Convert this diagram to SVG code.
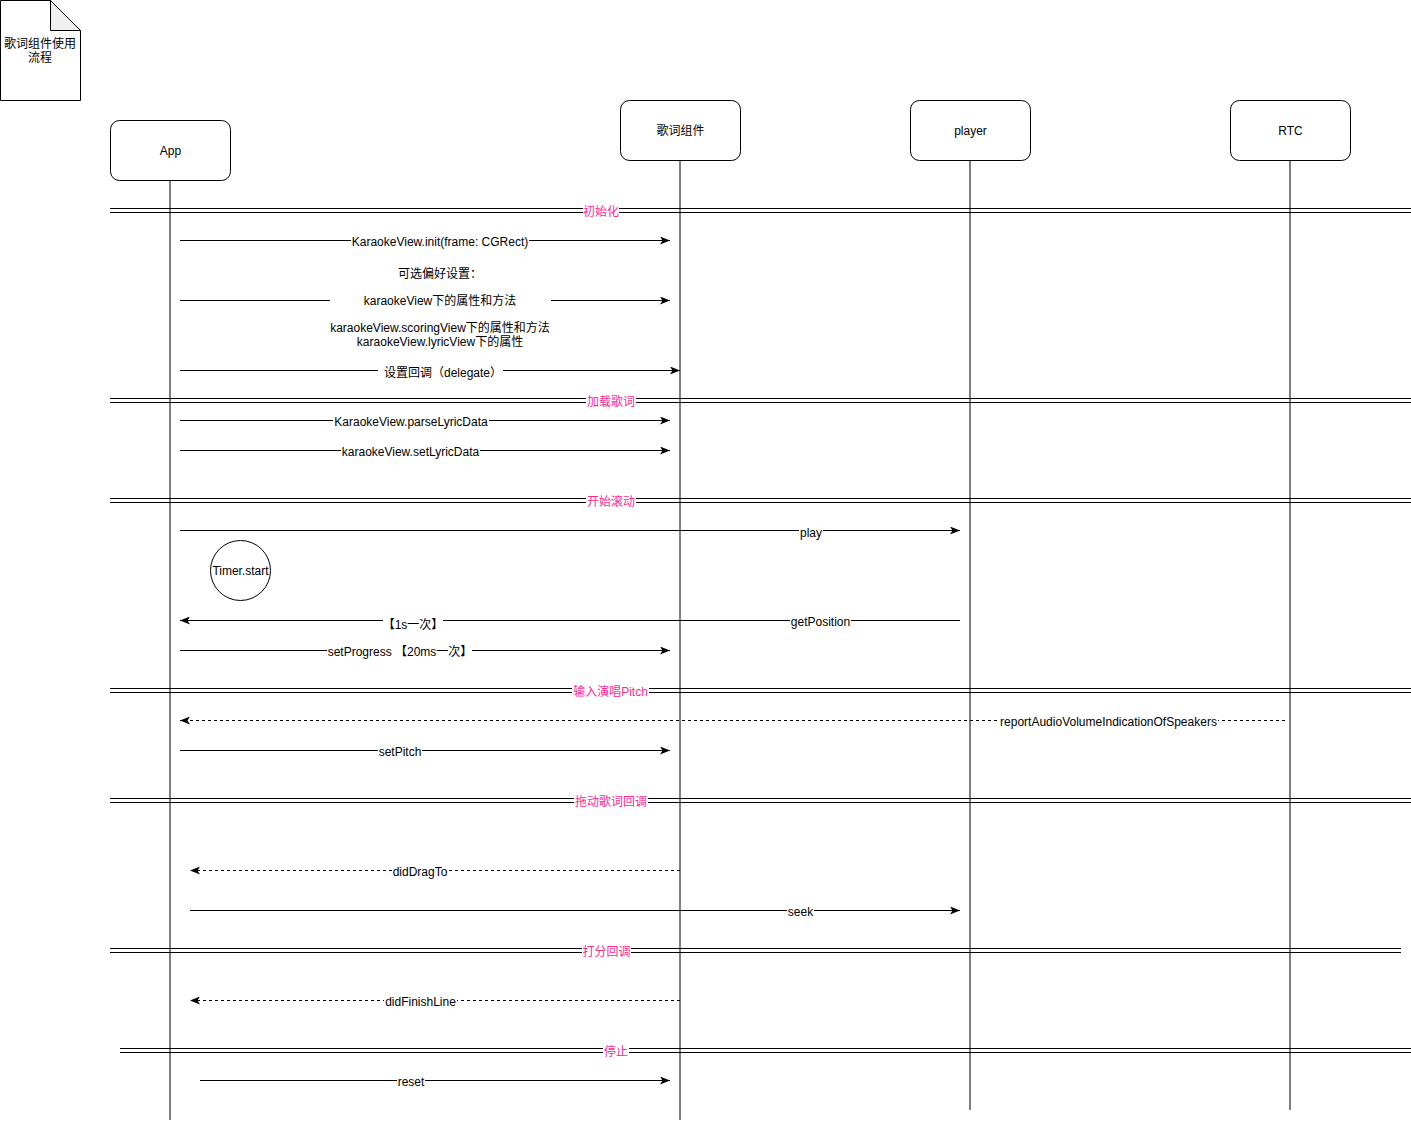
<svg xmlns="http://www.w3.org/2000/svg" width="1411" height="1122" viewBox="0 0 1411 1122">
<style>
text{font-family:"Liberation Sans","Noto Sans CJK SC",sans-serif;font-size:12px;fill:#000;text-anchor:middle}
.sec{fill:#FF2A90}
.box{fill:#fff;stroke:#000;stroke-width:1}
.life{stroke:#000;stroke-width:1;fill:none}
.msg{stroke:#000;stroke-width:1;fill:none}
.dash{stroke-dasharray:3 3}
.arr{marker-end:url(#classic)}
.div{stroke:#000;stroke-width:1;fill:none}
.bg{fill:#fff}
</style>
<defs>
<marker id="classic" markerUnits="userSpaceOnUse" markerWidth="10" markerHeight="8" viewBox="0 0 10 8" refX="10" refY="4" orient="auto">
<path d="M0,0 L10,4 L0,8 L2.5,4 Z" fill="#000"/>
</marker>
</defs>
<rect width="1411" height="1122" fill="#fff"/>

<g id="title-note">
<path d="M0.5,0.5 H50.5 L80.5,30.5 V100.5 H0.5 Z" class="box"/>
<path d="M50.5,0.5 V30.5 H80.5 Z" fill="#f0f0f0" stroke="#000"/>
<text x="40" y="48">歌词组件使用</text>
<text x="40" y="62">流程</text>
</g>

<g id="lifelines">
<line class="life" x1="170" y1="180" x2="170" y2="1120"/>
<line class="life" x1="680" y1="160" x2="680" y2="1120"/>
<line class="life" x1="970" y1="160" x2="970" y2="1110"/>
<line class="life" x1="1290" y1="160" x2="1290" y2="1110"/>
</g>

<g id="node-app">
<rect class="box" x="110.5" y="120.5" width="120" height="60" rx="9"/>
<text x="170.5" y="155">App</text>
</g>
<g id="node-lyric">
<rect class="box" x="620.5" y="100.5" width="120" height="60" rx="9"/>
<text x="680.5" y="135">歌词组件</text>
</g>
<g id="node-player">
<rect class="box" x="910.5" y="100.5" width="120" height="60" rx="9"/>
<text x="970.5" y="135">player</text>
</g>
<g id="node-rtc">
<rect class="box" x="1230.5" y="100.5" width="120" height="60" rx="9"/>
<text x="1290.5" y="135">RTC</text>
</g>
<g id="node-timer">
<circle class="box" cx="240.5" cy="570.5" r="30"/>
<text x="240.5" y="575">Timer.start</text>
</g>

<g id="dividers">
<path class="div" d="M110,208.5 H1411 M110,212.5 H1411"/>
<rect class="bg" x="583" y="204" width="36" height="15"/>
<text class="sec" x="601" y="216">初始化</text>

<path class="div" d="M110,398.5 H1411 M110,402.5 H1411"/>
<rect class="bg" x="586" y="394" width="50" height="15"/>
<text class="sec" x="611" y="406">加载歌词</text>

<path class="div" d="M110,498.5 H1411 M110,502.5 H1411"/>
<rect class="bg" x="586" y="494" width="50" height="15"/>
<text class="sec" x="611" y="506">开始滚动</text>

<path class="div" d="M110,688.5 H1411 M110,692.5 H1411"/>
<rect class="bg" x="572" y="684" width="77" height="15"/>
<text class="sec" x="610.5" y="696">输入演唱Pitch</text>

<path class="div" d="M110,798.5 H1411 M110,802.5 H1411"/>
<rect class="bg" x="574" y="794" width="74" height="15"/>
<text class="sec" x="611" y="806">拖动歌词回调</text>

<path class="div" d="M110,948.5 H1401 M110,952.5 H1401"/>
<rect class="bg" x="582" y="944" width="49" height="15"/>
<text class="sec" x="606.5" y="956">打分回调</text>

<path class="div" d="M120,1048.5 H1411 M120,1052.5 H1411"/>
<rect class="bg" x="603" y="1044" width="26" height="15"/>
<text class="sec" x="616" y="1056">停止</text>
</g>

<g id="connectors">
<line class="msg arr" x1="180" y1="240.5" x2="670" y2="240.5"/>
<rect class="bg" x="351" y="234" width="178" height="14"/>
<text x="440" y="246">KaraokeView.init(frame: CGRect)</text>

<line class="msg arr" x1="180" y1="300.5" x2="670" y2="300.5"/>
<rect class="bg" x="330" y="264" width="221" height="84"/>
<text x="440" y="278">可选偏好设置：</text>
<text x="440" y="305">karaokeView下的属性和方法</text>
<text x="440" y="332">karaokeView.scoringView下的属性和方法</text>
<text x="440" y="346">karaokeView.lyricView下的属性</text>

<line class="msg arr" x1="180" y1="370.5" x2="680" y2="370.5"/>
<rect class="bg" x="378" y="364" width="125" height="14"/>
<text x="443" y="377">设置回调（delegate）</text>

<line class="msg arr" x1="180" y1="420.5" x2="670" y2="420.5"/>
<rect class="bg" x="333" y="414" width="156" height="14"/>
<text x="411" y="426">KaraokeView.parseLyricData</text>

<line class="msg arr" x1="180" y1="450.5" x2="670" y2="450.5"/>
<rect class="bg" x="341" y="444" width="139" height="14"/>
<text x="410.5" y="456">karaokeView.setLyricData</text>

<line class="msg arr" x1="180" y1="530.5" x2="960" y2="530.5"/>
<rect class="bg" x="799" y="524" width="24" height="14"/>
<text x="811" y="537">play</text>

<line class="msg arr" x1="960" y1="620.5" x2="180" y2="620.5"/>
<rect class="bg" x="790" y="614" width="61" height="14"/>
<text x="820.5" y="626">getPosition</text>
<rect class="bg" x="383" y="616" width="60" height="16"/>
<text x="413" y="629">【1s一次】</text>

<line class="msg arr" x1="180" y1="650.5" x2="670" y2="650.5"/>
<rect class="bg" x="327" y="644" width="145" height="14"/>
<text x="400" y="656">setProgress 【20ms一次】</text>

<line class="msg dash arr" x1="1285" y1="720.5" x2="180" y2="720.5"/>
<rect class="bg" x="999" y="714" width="219" height="14"/>
<text x="1108.5" y="726">reportAudioVolumeIndicationOfSpeakers</text>

<line class="msg arr" x1="180" y1="750.5" x2="670" y2="750.5"/>
<rect class="bg" x="378" y="744" width="44" height="14"/>
<text x="400" y="756">setPitch</text>

<line class="msg dash arr" x1="680" y1="870.5" x2="190" y2="870.5"/>
<rect class="bg" x="392" y="864" width="56" height="14"/>
<text x="420" y="876">didDragTo</text>

<line class="msg arr" x1="190" y1="910.5" x2="960" y2="910.5"/>
<rect class="bg" x="787" y="904" width="27" height="14"/>
<text x="800.5" y="916">seek</text>

<line class="msg dash arr" x1="680" y1="1000.5" x2="190" y2="1000.5"/>
<rect class="bg" x="384" y="994" width="73" height="14"/>
<text x="420.5" y="1006">didFinishLine</text>

<line class="msg arr" x1="200" y1="1080.5" x2="670" y2="1080.5"/>
<rect class="bg" x="397" y="1074" width="28" height="14"/>
<text x="411" y="1086">reset</text>
</g>
</svg>
